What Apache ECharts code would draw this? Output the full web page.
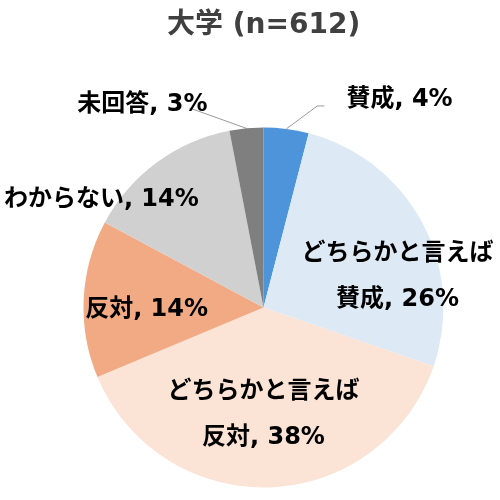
<!DOCTYPE html>
<html>
<head>
<meta charset="utf-8">
<script src="https://cdn.jsdelivr.net/npm/echarts@6/dist/echarts.min.js"></script>
<style>html,body{margin:0;padding:0;background:#fff}#c{width:500px;height:500px}</style>
</head>
<body>
<div id="c"></div>
<script>
const titleText = '大学 (n=612)';
const categories = ['賛成', 'どちらかと言えば賛成', 'どちらかと言えば反対', '反対', 'わからない', '未回答'];
const values = [4, 26, 38, 14, 14, 3];
const colors = ['#4D94DB', '#DDEAF6', '#FBE3D6', '#F2AA84', '#D0D0D0', '#7F7F7F'];

const FONT = '"DejaVu Sans", "Noto Sans CJK JP", sans-serif';
// label nudges relative to the library's default label anchor
const labelNudge = [[0, -4], [52, 13], [-3, 14], [-24, 7], [-107, -33], [-1, -4]];
// leader line bends relative to the library's slice anchor point
const lineBend = { 0: [[31, -23], [38, -23]], 5: [[-56, -20], [-57, -20]] };

const outsideItems = {
  0: { label: { position: 'outside', distanceToLabelLine: 22 },
       labelLine: { show: true, length: 25, length2: 35, smooth: false } },
  5: { label: { position: 'outside', distanceToLabelLine: 0 },
       labelLine: { show: true, length: 20, length2: 36, smooth: false } }
};

const data = categories.map((name, i) => {
  const item = { name: name, value: values[i], itemStyle: { color: colors[i] } };
  if (outsideItems[i]) Object.assign(item, outsideItems[i]);
  return item;
});

const chart = echarts.init(document.getElementById('c'), null, { renderer: 'canvas' });
chart.setOption({
  animation: false,
  title: {
    text: titleText,
    left: 162,
    top: 7,
    textStyle: { fontFamily: FONT, fontSize: 28, fontWeight: 'bold', color: '#404040' }
  },
  series: [{
    type: 'pie',
    center: [263.5, 307.5],
    radius: 180,
    startAngle: 90,
    clockwise: true,
    avoidLabelOverlap: false,
    itemStyle: { borderWidth: 0 },
    label: {
      show: true,
      position: 'inside',
      fontFamily: FONT,
      fontSize: 24,
      fontWeight: 'bold',
      color: '#000',
      lineHeight: 46,
      formatter: p => p.name.replace('どちらかと言えば', 'どちらかと言えば\n') + ', ' + p.value + '%'
    },
    labelLine: { show: false, lineStyle: { color: '#9A9A9A', width: 1 } },
    labelLayout: function (params) {
      const out = {};
      const n = labelNudge[params.dataIndex];
      if (n) { out.dx = n[0]; out.dy = n[1]; }
      const bend = lineBend[params.dataIndex];
      if (bend && params.labelLinePoints) {
        const p0 = params.labelLinePoints[0];
        out.labelLinePoints = [
          [p0[0], p0[1]],
          [p0[0] + bend[0][0], p0[1] + bend[0][1]],
          [p0[0] + bend[1][0], p0[1] + bend[1][1]]
        ];
      }
      return out;
    },
    emphasis: { disabled: true },
    data: data
  }]
});
</script>
</body>
</html>
